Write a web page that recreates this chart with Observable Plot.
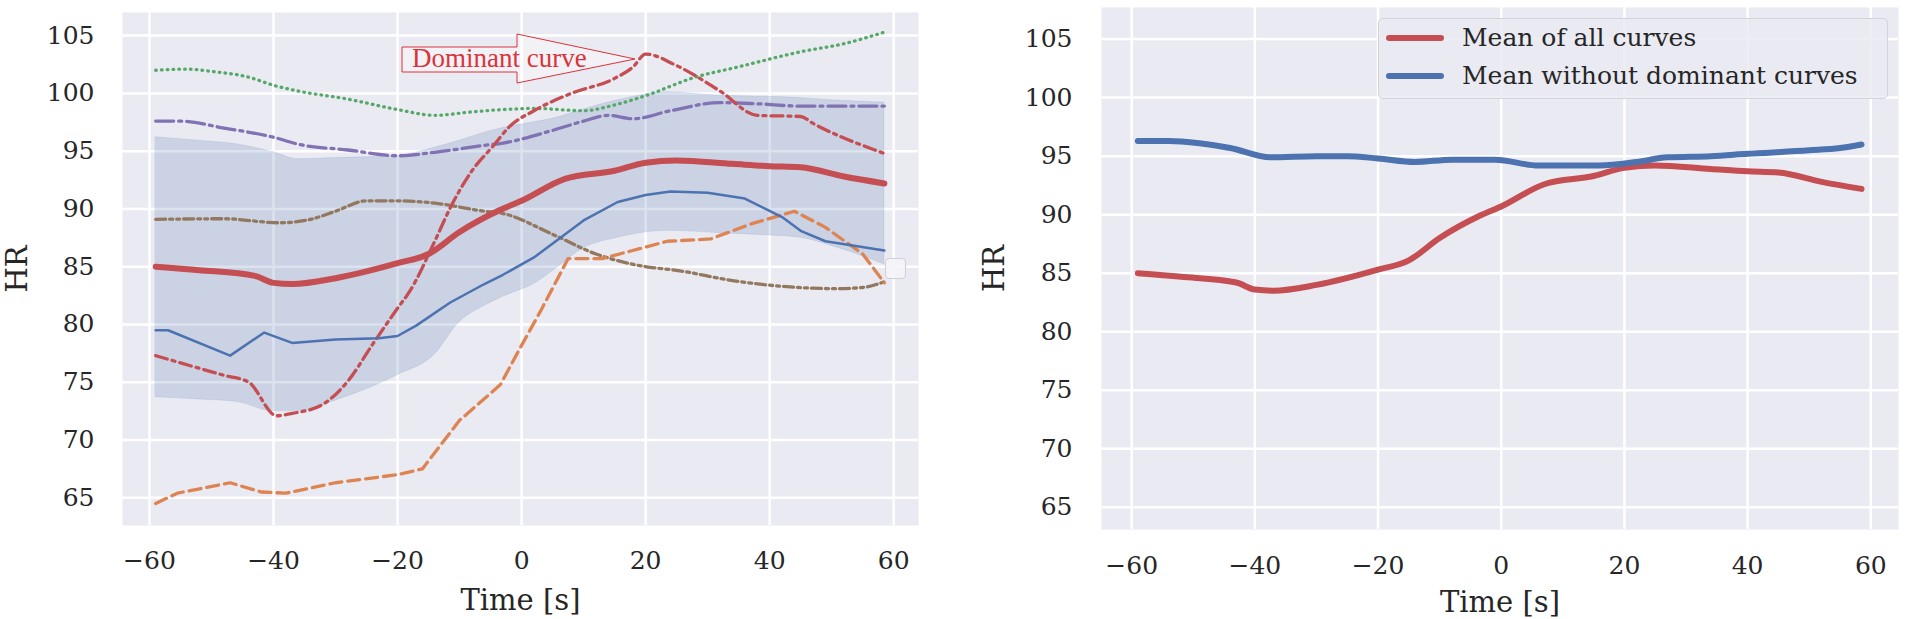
<!DOCTYPE html>
<html><head><meta charset="utf-8">
<script src="https://cdn.jsdelivr.net/npm/d3@7"></script>
<script src="https://cdn.jsdelivr.net/npm/@observablehq/plot@0.6"></script>
<style>
body{margin:0;background:#fff;}
#wrap{position:relative;width:1905px;height:619px;overflow:hidden;font-family:"DejaVu Serif",serif;color:#262626;}
.panel{position:absolute;top:0;}
#legend{position:absolute;left:1378px;top:18px;width:508px;height:79px;border:1px solid #d3d3db;border-radius:5px;background:rgba(234,234,242,0.85);}
.lgrow{position:absolute;left:0;height:30px;line-height:30px;font-size:25px;white-space:nowrap;}
.lgline{position:absolute;left:7px;top:12px;width:58px;height:6px;border-radius:3px;}
.lgtext{position:absolute;left:83px;top:0;}
#emptybox{position:absolute;left:885px;top:258px;width:19px;height:19px;border:1px solid #d0d0d6;border-radius:4px;background:rgba(245,245,248,0.9);}
</style></head><body><div id="wrap"></div>
<script>
const xTicks = [-60, -40, -20, 0, 20, 40, 60];
const yTicks = [65, 70, 75, 80, 85, 90, 95, 100, 105];

const curveGreen = [[-59,102.0],[-54,102.1],[-50,101.9],[-44,101.4],[-40,100.7],[-36,100.2],[-28,99.5],[-20,98.6],[-14,98.1],[-8,98.4],[-3,98.6],[2,98.7],[10,98.5],[15,99.0],[20,99.8],[28,101.4],[35,102.3],[45,103.6],[52,104.3],[58.5,105.3]];
const curvePurple = [[-59,97.6],[-55,97.6],[-48,97.0],[-40,96.2],[-36,95.6],[-28,95.1],[-20,94.6],[-14,94.9],[-6,95.5],[-3,95.7],[5,96.8],[10,97.6],[14,98.1],[18,97.8],[24,98.5],[32,99.2],[38,99.1],[45,98.9],[58.5,98.9]];
const curveBrown = [[-59,89.1],[-48,89.15],[-39,88.8],[-34,89.1],[-30,89.8],[-25,90.7],[-20,90.7],[-14,90.5],[-6,89.8],[-3,89.6],[5,87.8],[12,86.1],[18,85.2],[26,84.6],[34,83.8],[42,83.3],[51,83.1],[55,83.2],[58.5,83.7]];
const curveDominant = [[-59,77.3],[-48,75.6],[-44,75.0],[-39.5,72.1],[-37,72.3],[-32,73.1],[-28,75.1],[-24,78.3],[-20,81.4],[-18,82.9],[-14,87.2],[-11.5,90.1],[-8,93.3],[-4.5,95.5],[-2,97.1],[2,98.5],[8,100.0],[15,101.3],[18,102.3],[20,103.4],[25,102.4],[32,100.2],[38,98.1],[45,98.0],[47,97.4],[58.5,94.8]];
const curveOrange = [[-59,64.5],[-55.5,65.4],[-47,66.3],[-42,65.5],[-38,65.4],[-30,66.3],[-20,67.0],[-16,67.5],[-10,71.7],[-3.4,74.8],[-0.5,77.7],[3.2,81.3],[7.5,85.7],[13,85.7],[23.5,87.2],[30.5,87.4],[37,88.7],[44,89.8],[49,88.4],[55,86.1],[58.5,83.6]];
const curveBlue = [[-59,79.5],[-57,79.5],[-47,77.3],[-41.5,79.3],[-37,78.4],[-30,78.7],[-23,78.8],[-20,79.0],[-17,79.9],[-11.5,81.9],[-6,83.5],[-3,84.3],[2,85.8],[10,89.0],[15.5,90.6],[20,91.2],[24,91.5],[30,91.4],[36,90.9],[42,89.3],[45,88.1],[49,87.2],[58.5,86.4]];
const meanAll = [[-59,85.0],[-52,84.7],[-43,84.2],[-40,83.6],[-37,83.5],[-30,84.0],[-20,85.3],[-15,86.1],[-10,88.0],[-3.5,89.9],[0,90.7],[7,92.6],[15,93.3],[20,94.0],[25,94.2],[34,93.9],[40,93.7],[45,93.6],[52,92.8],[58.5,92.2]];
const meanWithout = [[-59,96.3],[-54,96.3],[-49,96.1],[-44,95.7],[-37.5,94.9],[-30,95.0],[-25,95.0],[-20,94.8],[-14,94.5],[-8,94.7],[-1,94.7],[6,94.2],[16,94.2],[22,94.5],[27,94.9],[34,95.0],[40,95.2],[50,95.5],[55,95.7],[58.5,96.0]];
const bandT    = [-59,-52,-46,-40,-36,-30,-20,-14,-10,-6,-3,2,5,10,15.5,23.5,32,40,45,50,58.5];
const bandHigh = [96.2,95.9,95.6,94.9,94.3,94.4,94.6,95.3,95.9,96.6,97.0,97.5,97.8,98.6,99.4,100.1,99.8,99.7,99.6,99.4,99.2];
const bandLow  = [73.7,73.5,73.3,72.5,72.5,73.4,75.6,77.4,80.2,81.6,82.4,83.5,84.6,86.6,87.5,88.1,87.9,87.7,87.5,86.8,85.2];
const legendLabels = ["Mean of all curves", "Mean without dominant curves"];

const C = {blue:"#4c72b0", orange:"#dd8452", green:"#55a868", red:"#c44e52", purple:"#8172b3", brown:"#937860"};
const band = bandT.map((t,i)=>({t, lo:bandLow[i], hi:bandHigh[i]}));
const X = d=>d[0], Y = d=>d[1];

function base(opts, marks) {
  return Plot.plot({
    width: opts.width, height: 619,
    marginLeft: opts.ml, marginRight: opts.mr, marginTop: opts.mt, marginBottom: opts.mb,
    x: {domain: opts.xd},
    y: {domain: opts.yd},
    style: {fontFamily: "DejaVu Serif", fontSize: "25px", color: "#262626", background: "transparent", overflow: "visible"},
    marks: [
      Plot.frame({fill: "#eaeaf2", stroke: null}),
      Plot.gridX(xTicks, {stroke: "white", strokeOpacity: 1, strokeWidth: 2.5}),
      Plot.gridY(yTicks, {stroke: "white", strokeOpacity: 1, strokeWidth: 2.5}),
      ...marks,
      Plot.axisX(xTicks, {tickSize: 0, tickPadding: opts.xpad, fontSize: 25, label: null, tickFormat: d => d < 0 ? "\u2212" + Math.abs(d) : String(d)}),
      Plot.axisY(yTicks, {tickSize: 0, tickPadding: opts.ypad, fontSize: 25, label: null}),
      Plot.text(["HR"], {frameAnchor: "left", dx: opts.hrdx, rotate: -90, textAnchor: "middle", lineAnchor: "middle", fontSize: 29, text: d => d}),
      Plot.text(["Time [s]"], {frameAnchor: "bottom", dy: opts.tdy, textAnchor: "middle", lineAnchor: "middle", fontSize: 29, text: d => d})
    ]
  });
}

const lw = 3.3;
const left = base({width: 950, ml: 122, mr: 32, mt: 12, mb: 94, xd: [-64.35, 64.0], yd: [62.6, 107.0], xpad: 26, ypad: 28, hrdx: -105, tdy: 75}, [
  Plot.areaY(band, {x: "t", y1: "lo", y2: "hi", fill: C.blue, fillOpacity: 0.2, stroke: C.blue, strokeOpacity: 0.12, curve: "monotone-x"}),
  Plot.line(curveGreen, {x: X, y: Y, stroke: C.green, strokeWidth: lw, strokeDasharray: "0.6,5.2", strokeLinecap: "round", curve: "monotone-x"}),
  Plot.line(curvePurple, {x: X, y: Y, stroke: C.purple, strokeWidth: lw, strokeDasharray: "18,5,3,5", curve: "monotone-x"}),
  Plot.line(curveBrown, {x: X, y: Y, stroke: C.brown, strokeWidth: lw, strokeDasharray: "10,4,3,4,3,4", curve: "monotone-x"}),
  Plot.line(curveOrange, {x: X, y: Y, stroke: C.orange, strokeWidth: lw, strokeDasharray: "12,6", curve: "linear"}),
  Plot.line(curveDominant, {x: X, y: Y, stroke: C.red, strokeWidth: lw, strokeDasharray: "12,5,3,5", curve: "monotone-x"}),
  Plot.line(curveBlue, {x: X, y: Y, stroke: C.blue, strokeWidth: 2.5, curve: "linear"}),
  Plot.line(meanAll, {x: X, y: Y, stroke: C.red, strokeWidth: 6, curve: "monotone-x"})
]);

const right = base({width: 955, ml: 151, mr: 7, mt: 7, mb: 90, xd: [-64.9, 64.5], yd: [63.1, 107.7], xpad: 27, ypad: 29, hrdx: -107, tdy: 73}, [
  Plot.line(meanAll, {x: X, y: Y, stroke: C.red, strokeWidth: 6, curve: "monotone-x"}),
  Plot.line(meanWithout, {x: X, y: Y, stroke: C.blue, strokeWidth: 6, curve: "monotone-x"})
]);

const wrap = document.getElementById("wrap");
left.classList.add("panel"); left.style.left = "0px";
right.classList.add("panel"); right.style.left = "950px";
wrap.appendChild(left); wrap.appendChild(right);

// annotation arrow
const ns = "http://www.w3.org/2000/svg";
const ann = document.createElementNS(ns, "svg");
ann.setAttribute("width", 950); ann.setAttribute("height", 619);
ann.style.position = "absolute"; ann.style.left = "0"; ann.style.top = "0"; ann.style.pointerEvents = "none";
const p = document.createElementNS(ns, "path");
p.setAttribute("d", "M402,47 H517 V34 L635,59 L517,83 V72 H402 Z");
p.setAttribute("fill", "rgba(255,255,255,0.35)"); p.setAttribute("stroke", "#d9343a"); p.setAttribute("stroke-width", "1");
ann.appendChild(p);
const t = document.createElementNS(ns, "text");
t.setAttribute("x", 412); t.setAttribute("y", 67);
t.setAttribute("font-family", "Liberation Serif, serif"); t.setAttribute("font-size", "27");
t.setAttribute("fill", "#d9343a");
t.textContent = "Dominant curve";
ann.appendChild(t);
wrap.appendChild(ann);

const eb = document.createElement("div"); eb.id = "emptybox"; wrap.appendChild(eb);

// legend
const lg = document.createElement("div"); lg.id = "legend";
[C.red, C.blue].forEach((c, i) => {
  const row = document.createElement("div"); row.className = "lgrow"; row.style.top = (4 + i * 38) + "px"; row.style.width = "100%";
  const ln = document.createElement("div"); ln.className = "lgline"; ln.style.background = c;
  const tx = document.createElement("div"); tx.className = "lgtext"; tx.textContent = legendLabels[i];
  row.appendChild(ln); row.appendChild(tx); lg.appendChild(row);
});
wrap.appendChild(lg);
</script></body></html>
